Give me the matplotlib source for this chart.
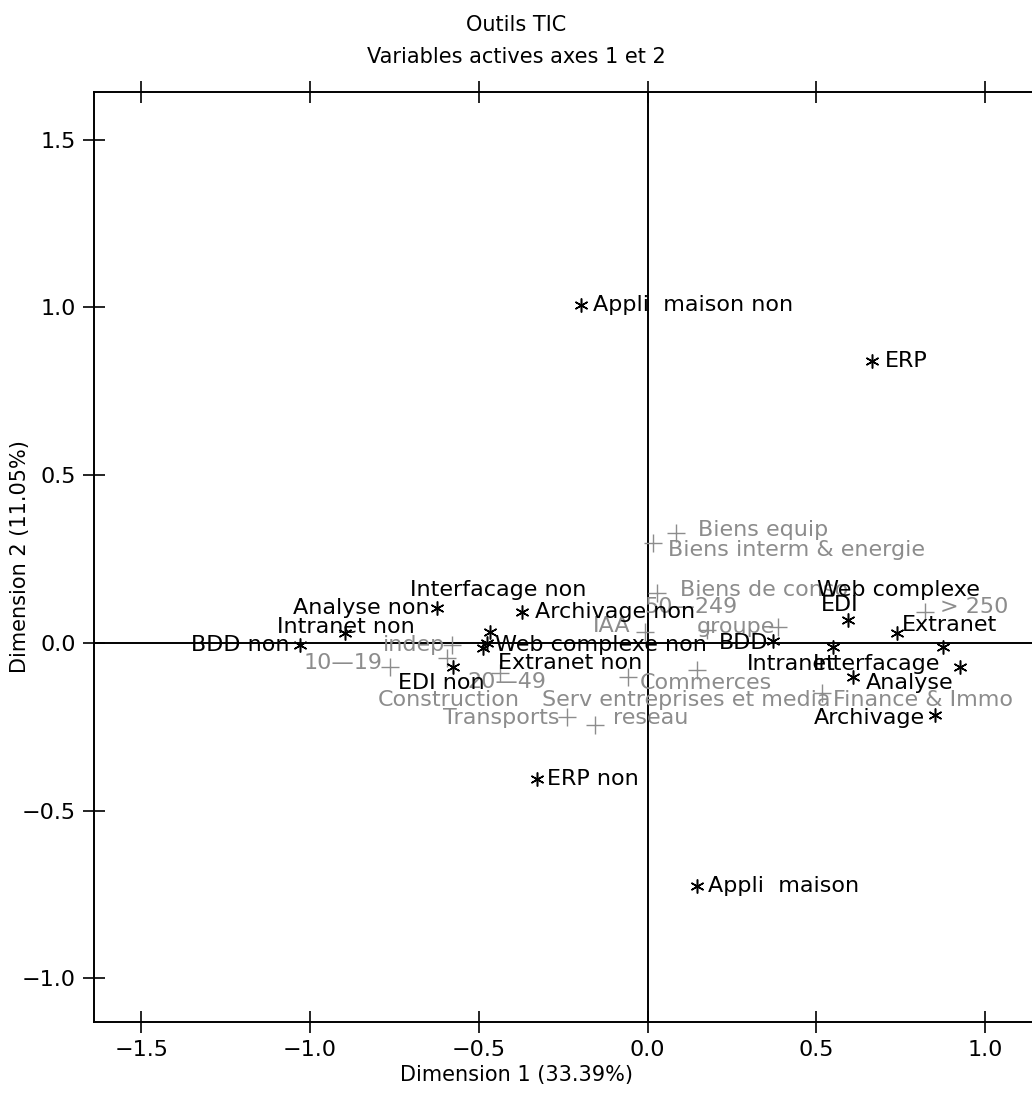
import numpy as np
import matplotlib
matplotlib.use("Agg")
import matplotlib.pyplot as plt

plt.rcParams['font.family'] = ['DejaVu Sans']

# active variables (black stars)
act_names = ["Appli  maison non", "ERP", "Appli  maison", "ERP non", "BDD non",
             "Analyse non", "Intranet non", "Archivage non", "Interfacage non",
             "Web complexe non", "Extranet non", "EDI non", "BDD", "EDI",
             "Extranet", "Intranet", "Interfacage", "Web complexe", "Analyse",
             "Archivage"]
act_x = [-0.197, 0.665, 0.147, -0.327, -1.030, -0.624, -0.896, -0.372, -0.467,
         -0.476, -0.487, -0.576, 0.372, 0.593, 0.739, 0.550, 0.876, 0.926,
         0.609, 0.852]
act_y = [1.007, 0.841, -0.724, -0.405, -0.006, 0.104, 0.030, 0.092, 0.033,
         0.000, -0.015, -0.072, 0.006, 0.069, 0.030, -0.012, -0.012, -0.072,
         -0.101, -0.215]

# supplementary variables (grey crosses)
sup_names = ["Biens equip", "Biens interm & energie", "Biens de conso",
             "50\u2014249", "groupe", "IAA", "> 250", "indep", "10\u201419",
             "20\u201449", "Construction", "Commerces",
             "Serv entreprises et media", "Finance & Immo", "Transports",
             "reseau"]
sup_x = [0.084, 0.016, 0.028, 0.176, 0.387, -0.007, 0.822, -0.579, -0.763,
         -0.437, -0.594, -0.058, 0.147, 0.517, -0.239, -0.156]
sup_y = [0.328, 0.298, 0.149, 0.039, 0.048, 0.033, 0.092, -0.006, -0.072,
         -0.089, -0.045, -0.101, -0.080, -0.149, -0.221, -0.244]

xticks = [-1.5, -1.0, -0.5, 0.0, 0.5, 1.0]
yticks = [-1.0, -0.5, 0.0, 0.5, 1.0, 1.5]

# label placement: (dx, dy in pixels, ha)
act_pos = {
    "Appli  maison non": (12, 0, 'left'), "ERP": (13, 0, 'left'),
    "Appli  maison": (11, 0, 'left'), "ERP non": (10, 0, 'left'),
    "BDD non": (-10, 0, 'right'), "Analyse non": (-7, 0, 'right'),
    "Intranet non": (1, 6, 'center'), "Archivage non": (13, 0, 'left'),
    "Interfacage non": (8, 42, 'center'), "Web complexe non": (8, -2, 'left'),
    "Extranet non": (15, -15, 'left'), "EDI non": (-12, -16, 'center'),
    "BDD": (-5, -2, 'right'), "EDI": (-8, 15, 'center'),
    "Extranet": (5, 8, 'left'), "Intranet": (2, -17, 'right'),
    "Interfacage": (-3, -17, 'right'), "Web complexe": (-62, 77, 'center'),
    "Analyse": (13, -6, 'left'), "Archivage": (-10, -3, 'right'),
}
sup_pos = {
    "Biens equip": (22, 3, 'left'), "Biens interm & energie": (15, -7, 'left'),
    "Biens de conso": (23, 3, 'left'), "50\u2014249": (-16, 23, 'center'),
    "groupe": (-3, 0, 'right'), "IAA": (-15, 6, 'right'),
    "> 250": (15, 5, 'left'), "indep": (-7, 0, 'right'),
    "10\u201419": (-7, 4, 'right'), "20\u201449": (7, -9, 'center'),
    "Construction": (2, -42, 'center'), "Commerces": (12, -6, 'left'),
    "Serv entreprises et media": (-11, -30, 'center'),
    "Finance & Immo": (11, -7, 'left'), "Transports": (-7, -1, 'right'),
    "reseau": (18, 7, 'left'),
}

grey = '#8c8c8c'
fs = 16
fig = plt.figure(figsize=(10.32, 10.97), dpi=100)
ax = fig.add_axes([0.0911, 0.0684, 0.9089, 0.8477])

ax.axhline(0, color='black', lw=1.4, zorder=1)
ax.axvline(0, color='black', lw=1.4, zorder=1)

ax.plot(sup_x, sup_y, ls='none', marker='+', ms=13, mew=1.0, color=grey)
ax.plot(act_x, act_y, ls='none', marker=(6, 2, 0), ms=10, mew=1.1, color='black')

for n, x, y in zip(sup_names, sup_x, sup_y):
    dx, dy, ha = sup_pos[n]
    ax.annotate(n, (x, y), xytext=(dx, dy), textcoords='offset pixels',
                ha=ha, va='center', fontsize=fs, color=grey, annotation_clip=False)
for n, x, y in zip(act_names, act_x, act_y):
    dx, dy, ha = act_pos[n]
    ax.annotate(n, (x, y), xytext=(dx, dy), textcoords='offset pixels',
                ha=ha, va='center', fontsize=fs, color='black', annotation_clip=False)

ax.set_xlim(-1.640, 1.139)
ax.set_ylim(-1.130, 1.642)
ax.set_xticks(xticks)
ax.set_yticks(yticks)
ax.tick_params(direction='inout', length=16, width=1.2, labelsize=16,
               top=True, right=False, pad=5)
for s in ['left', 'bottom', 'top']:
    ax.spines[s].set_linewidth(1.4)
ax.spines['right'].set_visible(False)

fig.text(0.5, 1 - 1075 / 1097, 'Dimension 1 (33.39%)', ha='center', va='center',
         fontsize=15)
fig.text(20 / 1032, 1 - 557 / 1097, 'Dimension 2 (11.05%)', ha='center',
         va='center', rotation=90, fontsize=15)

fig.text(0.5, 0.977, 'Outils TIC', ha='center', va='center', fontsize=15)
fig.text(0.5, 0.948, 'Variables actives axes 1 et 2', ha='center', va='center',
         fontsize=15)

fig.savefig('out.png', dpi=100)
